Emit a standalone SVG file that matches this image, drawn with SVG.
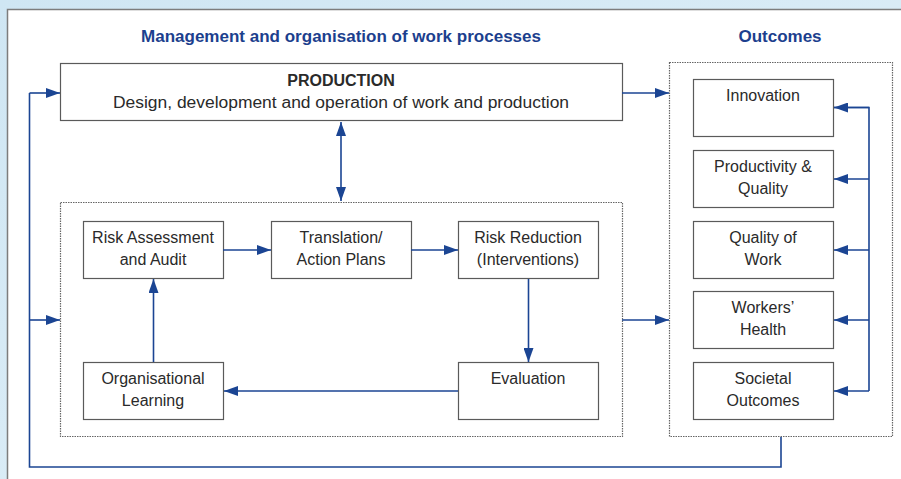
<svg xmlns="http://www.w3.org/2000/svg" width="901" height="479" viewBox="0 0 901 479">
<defs>
<linearGradient id="bg" x1="0" y1="0" x2="1" y2="1">
<stop offset="0" stop-color="#cfe6f3"/>
<stop offset="1" stop-color="#e3f1f9"/>
</linearGradient>
<marker id="ah" viewBox="0 0 14 10" refX="14" refY="5" markerWidth="14" markerHeight="10" markerUnits="userSpaceOnUse" orient="auto-start-reverse">
<path d="M0,0 L14,5 L0,10 Z" fill="#1b4593"/>
</marker>
<style>
.box{fill:#fff;stroke:#5a5a5a;stroke-width:1.2}
.dot{fill:none;stroke:#666;stroke-width:1.2;stroke-dasharray:1.5 1}
.t{font-family:"Liberation Sans",Arial,sans-serif;font-size:16px;fill:#2a2a2a;text-anchor:middle}
.h{font-family:"Liberation Sans",Arial,sans-serif;font-size:17px;font-weight:bold;fill:#1c3f8e;text-anchor:middle}
.c{fill:none;stroke:#1b4593;stroke-width:1.6}
.ca{fill:none;stroke:#1b4593;stroke-width:1.6;marker-end:url(#ah)}
</style>
</defs>
<rect x="0" y="0" width="901" height="479" fill="url(#bg)"/>
<rect x="7.5" y="9.5" width="900" height="480" fill="#fff" stroke="#7d7d7d" stroke-width="1.5"/>

<text class="h" x="341" y="42" textLength="400" lengthAdjust="spacingAndGlyphs">Management and organisation of work processes</text>
<text class="h" x="780" y="42">Outcomes</text>

<rect class="dot" x="60.5" y="202.5" width="562" height="234"/>
<rect class="dot" x="669.5" y="62.5" width="223" height="374"/>

<g id="production">
<rect class="box" x="60.5" y="63.5" width="562" height="57"/>
<text class="t" x="341" y="86" font-weight="bold">PRODUCTION</text>
<text class="t" x="341" y="108" textLength="456" lengthAdjust="spacingAndGlyphs">Design, development and operation of work and production</text>
</g>
<g id="risk-assessment">
<rect class="box" x="83.5" y="221.5" width="140" height="57"/>
<text class="t" x="153" y="243">Risk Assessment</text>
<text class="t" x="153" y="265">and Audit</text>
</g>
<g id="translation">
<rect class="box" x="271.5" y="221.5" width="140" height="57"/>
<text class="t" x="341" y="243">Translation/</text>
<text class="t" x="341" y="265">Action Plans</text>
</g>
<g id="risk-reduction">
<rect class="box" x="458.5" y="221.5" width="140" height="57"/>
<text class="t" x="528" y="243">Risk Reduction</text>
<text class="t" x="528" y="265">(Interventions)</text>
</g>
<g id="evaluation">
<rect class="box" x="458.5" y="362.5" width="140" height="57"/>
<text class="t" x="528" y="384">Evaluation</text>
</g>
<g id="organisational-learning">
<rect class="box" x="83.5" y="362.5" width="140" height="57"/>
<text class="t" x="153" y="384">Organisational</text>
<text class="t" x="153" y="406">Learning</text>
</g>
<g id="innovation">
<rect class="box" x="693.5" y="79.5" width="140" height="57"/>
<text class="t" x="763" y="101">Innovation</text>
</g>
<g id="productivity">
<rect class="box" x="693.5" y="150.5" width="140" height="57"/>
<text class="t" x="763" y="172">Productivity &amp;</text>
<text class="t" x="763" y="194">Quality</text>
</g>
<g id="quality-of-work">
<rect class="box" x="693.5" y="221.5" width="140" height="57"/>
<text class="t" x="763" y="243">Quality of</text>
<text class="t" x="763" y="265">Work</text>
</g>
<g id="workers-health">
<rect class="box" x="693.5" y="291.5" width="140" height="57"/>
<text class="t" x="763" y="313">Workers’</text>
<text class="t" x="763" y="335">Health</text>
</g>
<g id="societal-outcomes">
<rect class="box" x="693.5" y="362.5" width="140" height="57"/>
<text class="t" x="763" y="384">Societal</text>
<text class="t" x="763" y="406">Outcomes</text>
</g>

<g id="connectors">
<path class="ca" d="M341,201 L341,122" style="marker-start:url(#ah)"/>
<path class="ca" d="M622,93 L669,93"/>
<path class="ca" d="M622,320 L669,320"/>
<path class="ca" d="M223,250 L271,250"/>
<path class="ca" d="M411,250 L458,250"/>
<path class="ca" d="M528.5,279 L528.5,362"/>
<path class="ca" d="M458,391 L224,391"/>
<path class="ca" d="M153.5,362 L153.5,279"/>
<path class="c" d="M834,107.5 L869,107.5 L869,391"/>
<path class="ca" d="M869,107.5 L834,107.5"/>
<path class="ca" d="M869,179 L834,179"/>
<path class="ca" d="M869,250 L834,250"/>
<path class="ca" d="M869,320 L834,320"/>
<path class="ca" d="M869,391 L834,391"/>
<path class="c" d="M781,437 L781,467 L29.5,467 L29.5,93"/>
<path class="ca" d="M29.5,93 L60,93"/>
<path class="ca" d="M29.5,320 L60,320"/>
</g>
</svg>
